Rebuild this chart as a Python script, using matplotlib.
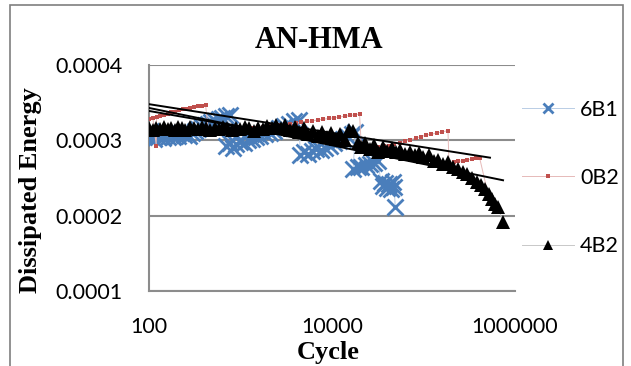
import numpy as np
import matplotlib
matplotlib.use("Agg")
import matplotlib.pyplot as plt
from matplotlib.patches import Rectangle
from matplotlib.ticker import FixedLocator, FuncFormatter

# ---------------------------- data ----------------------------
# 6B1: blue crosses
cyc_6b1 = [100, 106, 112, 118, 125, 133, 141, 150, 160, 170, 182, 195, 210, 225, 240, 258, 275, 295,
           320, 345, 375, 405, 440, 480, 525, 575, 630, 690, 760,
           700, 760, 830, 900, 980, 1080, 1200, 1330, 1480, 1650, 1850, 2080, 2350, 2650, 3000, 3400, 3850, 4350,
           4500, 4900, 5400, 6000, 6700, 7500, 8400, 9400, 10500, 11800, 13200, 14800, 16500, 18000,
           17000, 19000, 21000, 23500, 26000, 29000, 32000,
           34000, 36000, 38000, 40000, 42000, 44000, 46000, 48000, 49000]
e_6b1 = [3.05, 3.12, 3.02, 3.09, 3.04, 3.10, 3.03, 3.08, 3.05, 3.11, 3.04, 3.08, 3.06, 3.10, 3.07, 3.09, 3.06, 3.10,
         3.12, 3.15, 3.18, 3.20, 3.22, 3.24, 3.26, 3.28, 3.30, 3.32, 3.34,
         2.93, 2.97, 2.90, 2.95, 2.98, 2.97, 3.00, 3.02, 3.04, 3.06, 3.08, 3.10, 3.13, 3.16, 3.19, 3.22, 3.25, 3.27,
         2.80, 2.84, 2.82, 2.86, 2.88, 2.87, 2.90, 2.93, 2.96, 2.99, 3.02, 3.05, 3.08, 3.11,
         2.62, 2.64, 2.65, 2.67, 2.68, 2.70, 2.72,
         2.46, 2.40, 2.44, 2.37, 2.42, 2.35, 2.45, 2.38, 2.12]

# 0B2: red dots
cyc_0b2 = [100, 110, 120, 121, 133, 146, 160, 176, 193, 212, 233, 256, 281, 309, 340, 375, 415,
           450, 520, 600, 700, 820, 950, 1100, 1300, 1500, 1750, 2050, 2400,
           2700, 3100, 3500, 4000, 4600, 5300, 6100, 7000, 8000, 9200, 10500, 12000, 13800, 15800, 18000, 20000,
           21000, 24000, 28000, 32000, 37000, 42000, 48000, 55000, 63000, 72000, 82000, 94000, 107000, 122000,
           140000, 160000, 185000,
           190000, 215000, 240000, 270000, 300000, 335000, 375000, 410000,
           520000, 540000]
e_0b2 = [3.28, 3.30, 2.93, 3.31, 3.32, 3.34, 3.35, 3.37, 3.38, 3.40, 3.41, 3.42, 3.43, 3.44, 3.45, 3.46, 3.47,
         3.08, 3.10, 3.11, 3.12, 3.13, 3.14, 3.15, 3.16, 3.17, 3.18, 3.19, 3.20,
         3.20, 3.21, 3.22, 3.23, 3.24, 3.25, 3.26, 3.27, 3.28, 3.29, 3.30, 3.31, 3.32, 3.33, 3.34, 3.35,
         2.88, 2.89, 2.90, 2.91, 2.92, 2.93, 2.95, 2.97, 2.99, 3.01, 3.03, 3.05, 3.07, 3.08,
         3.10, 3.11, 3.13,
         2.70, 2.71, 2.72, 2.73, 2.74, 2.75, 2.76, 2.77,
         2.23, 2.15]

# 4B2: black triangles
cyc_4b2 = [100, 110, 120, 132, 145, 160, 175, 190, 210, 230, 250, 280, 310, 340, 380, 420, 470, 520, 580, 650,
           720, 800, 900, 1000, 1120, 1250, 1400, 1560, 1750, 1950, 2200, 2450, 2750, 3100, 3500, 3900, 4400,
           4900, 5500, 6200, 7000, 7800, 8800, 9800, 11000, 12300, 13800, 15500, 17000, 19000, 21000, 23000,
           26000, 29000, 32000, 36000, 40000, 45000, 50000, 56000, 63000, 71000, 80000, 90000, 100000, 115000,
           130000, 145000, 165000, 185000, 210000, 240000, 270000, 300000, 340000, 380000, 420000, 470000,
           520000, 560000, 600000, 650000, 740000]
e_4b2 = [3.16, 3.14, 3.17, 3.15, 3.18, 3.15, 3.17, 3.14, 3.18, 3.16, 3.14, 3.18, 3.16, 3.15, 3.18, 3.16, 3.14,
         3.17, 3.15, 3.18, 3.16, 3.14, 3.17, 3.15, 3.18, 3.16, 3.13, 3.17, 3.15, 3.19, 3.16, 3.20, 3.17, 3.21,
         3.14, 3.18, 3.11, 3.16, 3.09, 3.13, 3.06, 3.11, 3.04, 3.10, 3.02, 3.09, 3.00, 3.14, 3.12, 2.96, 2.91,
         2.97, 2.88, 2.94, 2.85, 2.91, 2.86, 2.90, 2.84, 2.87, 2.82, 2.85, 2.80, 2.83, 2.78, 2.80, 2.72, 2.74,
         2.69, 2.71, 2.65, 2.62, 2.58, 2.55, 2.50, 2.45, 2.41, 2.35, 2.29, 2.22, 2.16, 2.11, 1.92]

# trendlines (log fits as drawn in the chart): end points
trend_cyc = {"6B1": [100, 49000], "0B2": [100, 533000], "4B2": [100, 740000]}
trend_e = {"6B1": [3.39, 2.82], "0B2": [3.48, 2.77], "4B2": [3.43, 2.47]}

y_ticks = [1e-4, 2e-4, 3e-4, 4e-4]
x_ticks = [100, 10000, 1000000]

# ---------------------------- plot ----------------------------
BLUE, RED = "#4a7ebb", "#c0504d"
GRID = "#8c8c8c"

fig = plt.figure(figsize=(6.31, 3.66), dpi=100)
ax = fig.add_axes([149 / 631, 1 - 291 / 366, 366 / 631, 226 / 366])

sc = 1e-4
ax.plot(cyc_6b1, np.array(e_6b1) * sc, color="#b9cde5", lw=0.7, marker="x", ms=11, mew=2.0,
        mec=BLUE, mfc=BLUE, label="6B1", zorder=3)
ax.plot(cyc_0b2, np.array(e_0b2) * sc, color="#e6b9b8", lw=0.7, marker="s", ms=3.4, mew=0,
        mfc=RED, label="0B2", zorder=4)
ax.plot(cyc_4b2, np.array(e_4b2) * sc, color="#c8c8c8", lw=0.7, marker="^", ms=9.5, mew=0,
        mfc="black", label="4B2", zorder=5)
for k in ("6B1", "0B2", "4B2"):
    ax.plot(trend_cyc[k], np.array(trend_e[k]) * sc, color="black", lw=1.4, zorder=6)

ax.set_xscale("log")
ax.set_xlim(100, 1e6)
ax.set_ylim(1e-4, 4e-4)
ax.xaxis.set_major_locator(FixedLocator(x_ticks))
ax.xaxis.set_minor_locator(FixedLocator([]))
ax.xaxis.set_major_formatter(FuncFormatter(lambda v, p: f"{int(round(v))}"))
ax.yaxis.set_major_locator(FixedLocator(y_ticks))
ax.yaxis.set_major_formatter(FuncFormatter(lambda v, p: f"{v:.4f}"))
ax.tick_params(length=0, labelsize=15.5, pad=19)
for lab in ax.get_xticklabels() + ax.get_yticklabels():
    lab.set_family("Lato")

ax.grid(axis="y", color=GRID, lw=1.5, zorder=0)
ax.set_axisbelow(True)
for s in ("top", "right"):
    ax.spines[s].set_visible(False)
for s in ("left", "bottom"):
    ax.spines[s].set_color(GRID)
    ax.spines[s].set_linewidth(1.5)

fig.text(319 / 631, 1 - 41 / 366, "AN-HMA", ha="center", va="center",
         family="Liberation Serif", weight="bold", fontsize=22)
fig.text(31 / 631, 1 - 190 / 366, "Dissipated Energy", ha="center", va="center", rotation=90,
         family="Liberation Serif", weight="bold", fontsize=19)
fig.text(328 / 631, 1 - 353 / 366, "Cycle", ha="center", va="center",
         family="Liberation Serif", weight="bold", fontsize=19)

leg = ax.legend(loc="center left", bbox_to_anchor=(522 / 631, 1 - 178 / 366),
                bbox_transform=fig.transFigure, frameon=False, borderpad=0, borderaxespad=0,
                handlelength=2.4, handletextpad=0.3, labelspacing=2.25, markerscale=0.7,
                prop={"family": "Lato", "size": 15.5})

fig.add_artist(Rectangle((10 / 631, -0.05), 613 / 631, 1 - 5 / 366 + 0.05, transform=fig.transFigure,
                         fill=False, ec="#7f7f7f", lw=1.2))

fig.savefig("out.png", dpi=100, facecolor="white")
